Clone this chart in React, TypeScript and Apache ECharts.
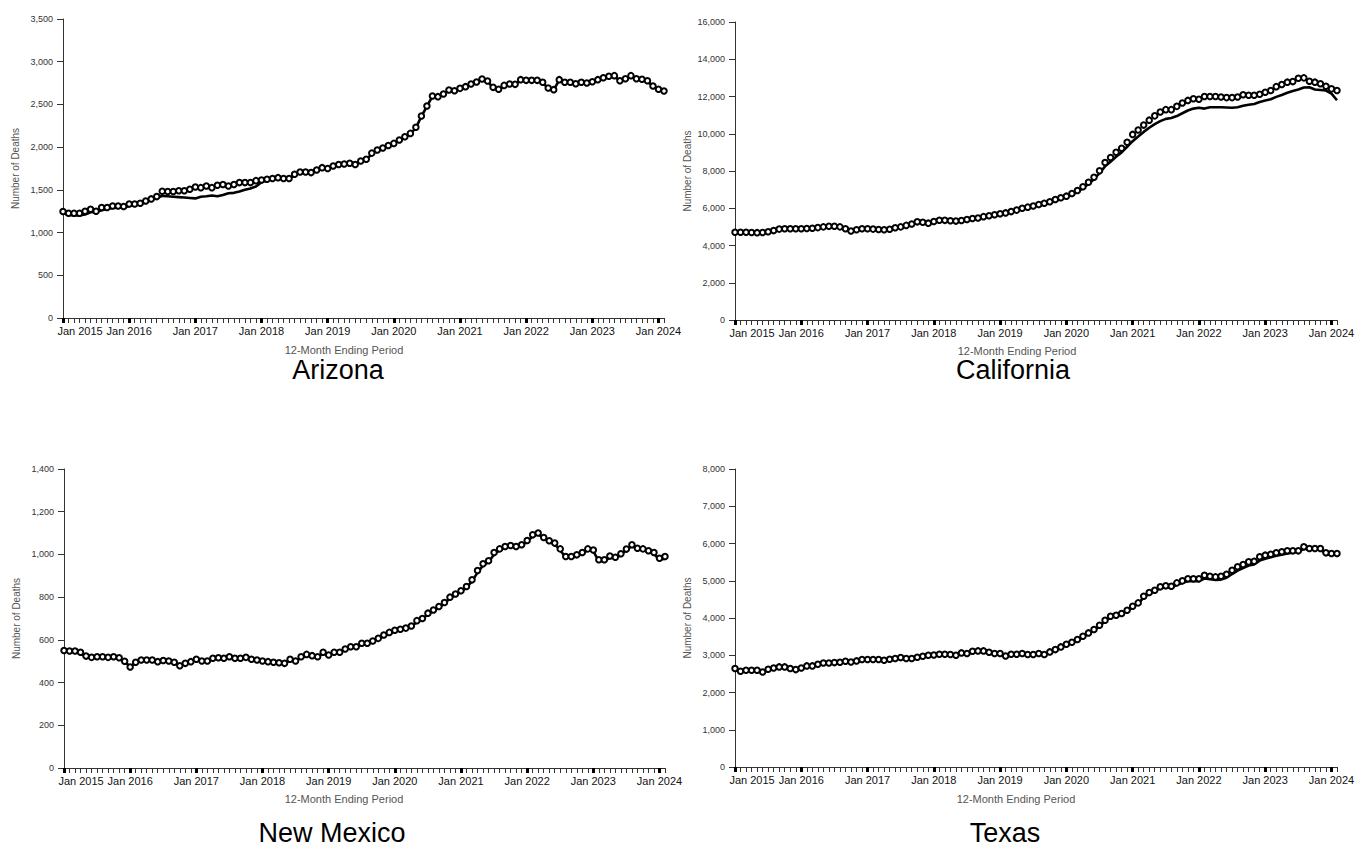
import React, { useEffect, useRef } from "react";
import * as echarts from "echarts";

// ---- categories (12-month ending period) ----
const MONTH_NAMES = ["Jan", "Feb", "Mar", "Apr", "May", "Jun", "Jul", "Aug", "Sep", "Oct", "Nov", "Dec"];
const FIRST_YEAR = 2015;
const N_MONTHS = 110; // Jan 2015 .. Feb 2024
const categories: string[] = Array.from(
  { length: N_MONTHS },
  (_, i) => `${MONTH_NAMES[i % 12]} ${FIRST_YEAR + Math.floor(i / 12)}`
);

// ---- Arizona ----
const azLine = [
  1230, 1205, 1200, 1200, 1212, 1238, 1240, 1262, 1275, 1288, 1292, 1290,
  1310, 1320, 1330, 1355, 1380, 1405, 1430, 1425, 1420, 1415, 1410, 1405,
  1400, 1420, 1425, 1435, 1425, 1440, 1460, 1465, 1480, 1500, 1515, 1540,
  1590, 1610, 1625, 1635, 1625, 1625, 1675, 1700, 1705, 1698, 1725, 1750,
  1745, 1775, 1790, 1798, 1806, 1792, 1832, 1852, 1922, 1960, 1985, 2015,
  2040, 2078, 2118, 2156, 2226, 2360, 2478, 2594, 2587, 2618, 2664, 2657,
  2684, 2704, 2735, 2758, 2792, 2770, 2697, 2674, 2719, 2735, 2731, 2786,
  2778, 2778, 2778, 2755, 2688, 2670, 2786, 2755, 2755, 2739, 2755, 2747,
  2762, 2786, 2809, 2825, 2833, 2774, 2797, 2833, 2797, 2790, 2774, 2712,
  2673, 2654,
];
const azPoints = [
  1246, 1226, 1226, 1226, 1250, 1273, 1250, 1293, 1293, 1312, 1312, 1305,
  1335, 1335, 1343, 1370, 1394, 1421, 1484, 1480, 1480, 1490, 1490, 1507,
  1534, 1526, 1546, 1526, 1554, 1562, 1546, 1562, 1585, 1585, 1585, 1608,
  1616, 1624, 1632, 1643, 1632, 1632, 1683, 1710, 1710, 1702, 1733, 1760,
  1750, 1780, 1796, 1803, 1811, 1796, 1838, 1858, 1930, 1967, 1990, 2020,
  2044, 2083, 2122, 2161, 2232, 2365, 2482, 2599, 2591, 2622, 2669, 2661,
  2688, 2708, 2739, 2762, 2797, 2774, 2700, 2677, 2723, 2739, 2735, 2790,
  2782, 2782, 2782, 2759, 2692, 2673, 2790, 2759, 2759, 2743, 2759, 2751,
  2766, 2790, 2813, 2829, 2837, 2778, 2801, 2837, 2801, 2794, 2778, 2716,
  2677, 2658,
];

// ---- California ----
const caLine = [
  4680, 4690, 4690, 4680, 4670, 4680, 4710, 4770, 4850, 4870, 4880, 4880,
  4880, 4890, 4910, 4940, 4980, 5000, 5000, 4960, 4860, 4750, 4820, 4870,
  4870, 4850, 4830, 4820, 4840, 4920, 4970, 5050, 5120, 5230, 5220, 5170,
  5250, 5320, 5320, 5300, 5280, 5310, 5370, 5420, 5450, 5520, 5570, 5620,
  5670, 5720, 5790, 5870, 5960, 6020, 6080, 6160, 6230, 6300, 6420, 6500,
  6600, 6720, 6880, 7080, 7300, 7560, 7880, 8250, 8500, 8760, 9000, 9300,
  9600, 9850, 10100, 10320, 10520, 10680, 10800, 10850, 10950, 11100, 11250, 11350,
  11400, 11350, 11420, 11420, 11420, 11410, 11400, 11420, 11500, 11560, 11600, 11700,
  11780, 11850, 11980, 12080, 12200, 12300, 12380, 12480, 12500, 12380, 12350, 12320,
  12150, 11800,
];
const caPoints = [
  4710, 4710, 4710, 4700, 4690, 4700, 4740, 4800, 4880, 4900, 4900, 4900,
  4900, 4910, 4930, 4960, 5000, 5030, 5030, 5000, 4900, 4780, 4850, 4900,
  4900, 4880, 4860, 4850, 4870, 4950, 5000, 5080, 5150, 5270, 5250, 5200,
  5290, 5360, 5350, 5330, 5310, 5340, 5400, 5450, 5480, 5550, 5600, 5650,
  5700, 5750, 5820, 5900, 6000, 6060, 6120, 6200, 6270, 6350, 6470, 6560,
  6650, 6790, 6950, 7150, 7395, 7660, 8015, 8460, 8720, 9005, 9220, 9540,
  9965, 10200, 10465, 10730, 10960, 11170, 11295, 11295, 11470, 11650, 11790, 11880,
  11850, 12000, 12000, 12000, 11970, 11940, 11940, 11970, 12090, 12070, 12070, 12120,
  12230, 12320, 12530, 12640, 12770, 12800, 12980, 13000, 12820, 12770, 12680, 12550,
  12410, 12320,
];

// ---- New Mexico ----
const nmLine = [
  545, 544, 542, 536, 520, 515, 517, 517, 515, 517, 512, 497,
  475, 492, 502, 503, 503, 496, 500, 498, 492, 480, 488, 495,
  505, 499, 499, 511, 513, 511, 517, 512, 511, 515, 507, 503,
  499, 496, 493, 491, 489, 505, 500, 517, 528, 523, 519, 538,
  527, 539, 540, 554, 565, 566, 580, 582, 592, 604, 618, 630,
  640, 646, 652, 662, 684, 698, 720, 736, 752, 770, 795, 810,
  825, 845, 875, 915, 948, 965, 1000, 1020, 1032, 1038, 1034, 1042,
  1060, 1085, 1095, 1076, 1060, 1048, 1020, 985, 985, 992, 1004, 1020,
  1015, 968, 968, 985, 982, 998, 1020, 1040, 1025, 1020, 1012, 1003,
  975, 980,
];
const nmPoints = [
  550, 548, 548, 542, 524, 518, 521, 521, 518, 521, 516, 500,
  473, 495, 506, 506, 506, 498, 503, 501, 495, 479, 490, 498,
  509, 501, 501, 514, 516, 514, 521, 514, 514, 518, 509, 506,
  501, 498, 495, 493, 490, 509, 501, 521, 532, 526, 521, 542,
  529, 542, 542, 557, 568, 568, 584, 584, 595, 607, 623, 635,
  645, 650, 655, 665, 690, 700, 725, 740, 756, 775, 800, 815,
  830, 850, 881, 925, 956, 970, 1009, 1026, 1037, 1042, 1037, 1045,
  1065, 1092, 1100, 1079, 1064, 1053, 1026, 990, 990, 998, 1009, 1026,
  1021, 975, 975, 993, 987, 1003, 1025, 1045, 1029, 1026, 1017, 1009,
  982, 990,
];

// ---- Texas ----
const txLine = [
  2610, 2545, 2570, 2570, 2570, 2530, 2600, 2635, 2660, 2660, 2620, 2595,
  2635, 2690, 2690, 2735, 2770, 2770, 2780, 2790, 2815, 2800, 2825, 2860,
  2860, 2860, 2860, 2845, 2870, 2890, 2915, 2890, 2890, 2925, 2950, 2975,
  2985, 3005, 3005, 2995, 2980, 3040, 3025, 3085, 3095, 3095, 3060, 3025,
  3025, 2965, 3005, 3005, 3025, 3000, 3000, 3025, 3000, 3065, 3130, 3200,
  3270, 3325, 3395, 3485, 3575, 3665, 3780, 3915, 4020, 4050, 4095, 4185,
  4290, 4380, 4555, 4655, 4715, 4800, 4820, 4810, 4890, 4940, 4990, 4990,
  4990, 5060, 5040, 5020, 5030, 5080, 5180, 5270, 5340, 5410, 5440, 5540,
  5590, 5630, 5670, 5700, 5730, 5750, 5770, 5860, 5840, 5840, 5840, 5720,
  5700, 5700,
];
const txPoints = [
  2642, 2570, 2597, 2597, 2597, 2552, 2624, 2660, 2687, 2687, 2642, 2615,
  2660, 2714, 2714, 2758, 2794, 2794, 2803, 2812, 2839, 2821, 2848, 2884,
  2884, 2884, 2884, 2866, 2893, 2911, 2937, 2911, 2911, 2946, 2973, 3000,
  3009, 3027, 3027, 3018, 3000, 3063, 3045, 3108, 3117, 3117, 3081, 3045,
  3045, 2982, 3027, 3027, 3045, 3018, 3018, 3045, 3018, 3090, 3152, 3224,
  3296, 3349, 3421, 3510, 3600, 3690, 3806, 3940, 4048, 4075, 4120, 4209,
  4316, 4406, 4585, 4684, 4746, 4836, 4863, 4854, 4943, 4997, 5051, 5051,
  5051, 5149, 5122, 5104, 5122, 5176, 5284, 5373, 5436, 5507, 5525, 5642,
  5687, 5713, 5749, 5776, 5803, 5803, 5803, 5910, 5866, 5866, 5866, 5749,
  5731, 5731,
];

const STATE_NAMES = ["Arizona", "California", "New Mexico", "Texas"];
const LINE_SERIES = [azLine, caLine, nmLine, txLine];
const POINT_SERIES = [azPoints, caPoints, nmPoints, txPoints];
const Y_MAX = [3500, 16000, 1400, 8000];
const Y_STEP = [500, 2000, 200, 1000];
const X_TITLE = "12-Month Ending Period";
const Y_TITLE = "Number of Deaths";

// ---- layout (positions only) ----
const PANELS = [
  { left: 63, top: 19, width: 601, height: 299, titleX: 338, titleY: 370, xNameX: 344, xNameY: 350 },
  { left: 735, top: 22, width: 602, height: 298, titleX: 1013, titleY: 370, xNameX: 1017, xNameY: 351 },
  { left: 64, top: 469, width: 601, height: 299, titleX: 332, titleY: 833, xNameX: 344, xNameY: 799 },
  { left: 735, top: 469, width: 602, height: 298, titleX: 1005, titleY: 833, xNameX: 1016, xNameY: 799 },
];

const FONT = "'Liberation Sans', Arial, Helvetica, sans-serif";

function buildOption() {
  const grid: any[] = [];
  const xAxis: any[] = [];
  const yAxis: any[] = [];
  const series: any[] = [];
  const graphic: any[] = [];

  PANELS.forEach((p, i) => {
    grid.push({ left: p.left, top: p.top, width: p.width, height: p.height, containLabel: false });

    xAxis.push({
      type: "category",
      gridIndex: i,
      data: categories,
      boundaryGap: false,
      axisLine: { show: true, lineStyle: { color: "#333", width: 1 } },
      axisTick: { show: true, interval: 0, length: 5, lineStyle: { color: "#333", width: 1 } },
      axisLabel: {
        show: true,
        interval: (idx: number) => idx % 12 === 0,
        fontSize: 11,
        color: "#111",
        fontFamily: FONT,
        margin: 7,
        hideOverlap: false,
        formatter: (v: string, idx: number) => (idx === 0 ? `{first|${v}}` : v),
        rich: { first: { padding: [0, 0, 0, 34], fontSize: 11, color: "#111", fontFamily: FONT } },
      },
      splitLine: { show: false },
    });
    // overlay axis: heavier January ticks
    xAxis.push({
      type: "category",
      gridIndex: i,
      data: categories,
      boundaryGap: false,
      position: "bottom",
      axisLine: { show: false },
      axisTick: {
        show: true,
        interval: (idx: number) => idx % 12 === 0,
        length: 5,
        lineStyle: { color: "#000", width: 3 },
      },
      axisLabel: { show: false },
      splitLine: { show: false },
    });

    yAxis.push({
      type: "value",
      gridIndex: i,
      min: 0,
      max: Y_MAX[i],
      interval: Y_STEP[i],
      axisLine: { show: true, lineStyle: { color: "#333", width: 1 } },
      axisTick: { show: true, length: 6, lineStyle: { color: "#333" } },
      axisLabel: {
        fontSize: 9,
        color: "#333",
        fontFamily: FONT,
        margin: 10,
        formatter: (v: number) => v.toLocaleString("en-US"),
      },
      splitLine: { show: false },
      name: Y_TITLE,
      nameLocation: "middle",
      nameGap: 43,
      nameTextStyle: { fontSize: 10, color: "#555", fontFamily: FONT },
    });

    series.push({
      type: "line",
      name: STATE_NAMES[i] + " line",
      xAxisIndex: 2 * i,
      yAxisIndex: i,
      data: LINE_SERIES[i],
      symbol: "none",
      lineStyle: { color: "#000", width: 2.6 },
      z: 2,
    });
    series.push({
      type: "scatter",
      name: STATE_NAMES[i] + " points",
      xAxisIndex: 2 * i,
      yAxisIndex: i,
      data: POINT_SERIES[i].map((v, k) => [k, v]),
      symbol: "circle",
      symbolSize: 5.5,
      itemStyle: { color: "#fff", borderColor: "#000", borderWidth: 2, opacity: 1 },
      z: 3,
    });

    graphic.push({
      type: "text",
      x: p.xNameX,
      y: p.xNameY,
      style: {
        text: X_TITLE,
        align: "center",
        verticalAlign: "middle",
        fontSize: 11,
        fill: "#555",
        fontFamily: FONT,
      },
    });
    graphic.push({
      type: "text",
      x: p.titleX,
      y: p.titleY,
      style: {
        text: STATE_NAMES[i],
        align: "center",
        verticalAlign: "middle",
        fontSize: 27,
        lineHeight: 27,
        fill: "#000",
        fontFamily: FONT,
      },
    });
  });

  return {
    animation: false,
    backgroundColor: "#fff",
    textStyle: { fontFamily: FONT },
    grid,
    xAxis,
    yAxis,
    series,
    graphic,
  };
}

export default function App() {
  const ref = useRef<HTMLDivElement>(null);
  useEffect(() => {
    if (!ref.current) return;
    const chart = echarts.init(ref.current, undefined, { renderer: "svg" });
    chart.setOption(buildOption() as any);
    return () => chart.dispose();
  }, []);
  return (
    <div
      ref={ref}
      style={{ position: "absolute", left: 0, top: 0, width: 1366, height: 848, background: "#fff" }}
    />
  );
}
